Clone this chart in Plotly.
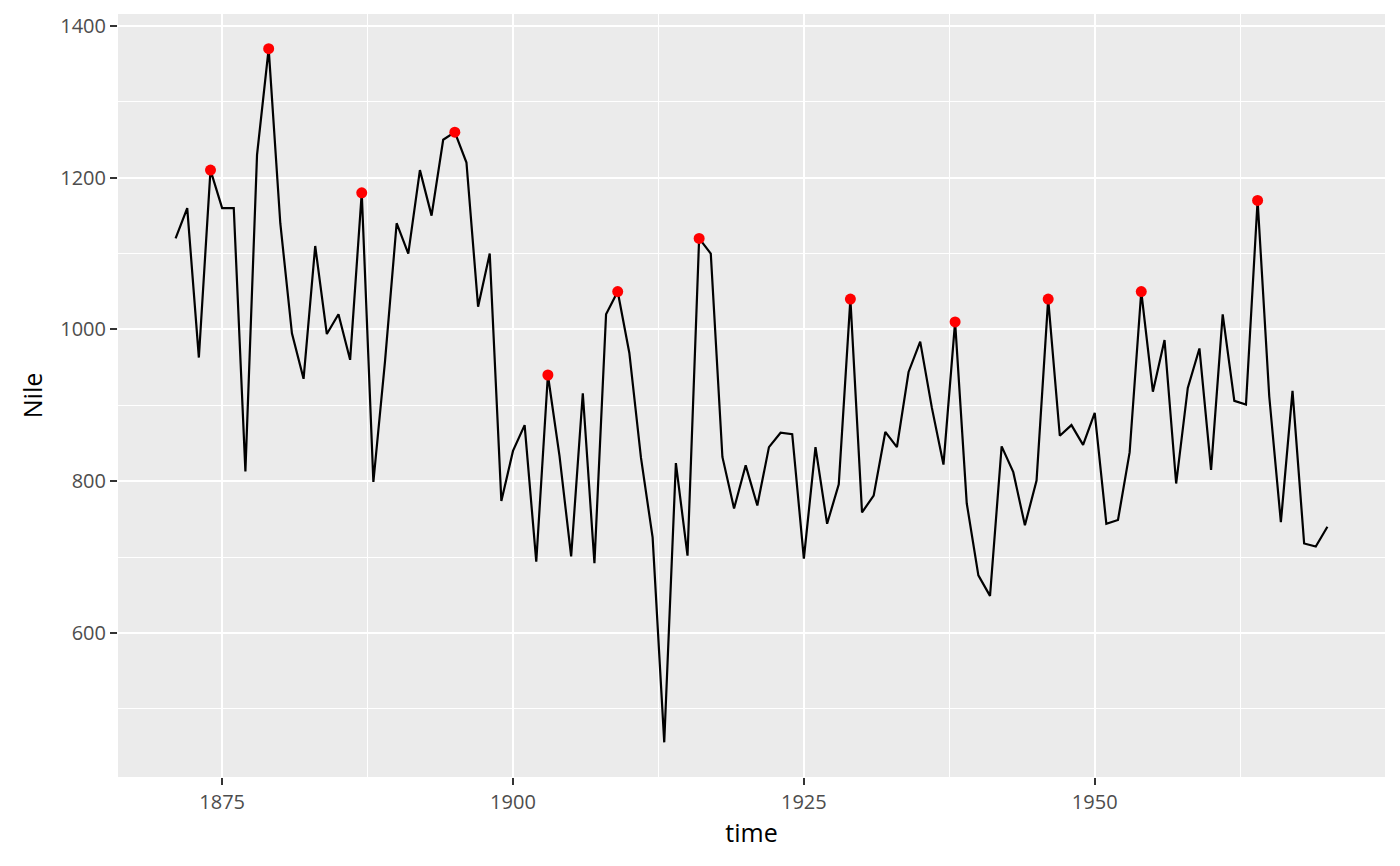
import plotly.graph_objects as go

years = list(range(1871, 1971))
nile = [1120, 1160, 963, 1210, 1160, 1160, 813, 1230, 1370, 1140, 995, 935, 1110, 994, 1020,
        960, 1180, 799, 958, 1140, 1100, 1210, 1150, 1250, 1260, 1220, 1030, 1100, 774, 840,
        874, 694, 940, 833, 701, 916, 692, 1020, 1050, 969, 831, 726, 456, 824, 702, 1120,
        1100, 832, 764, 821, 768, 845, 864, 862, 698, 845, 744, 796, 1040, 759, 781, 865,
        845, 944, 984, 897, 822, 1010, 771, 676, 649, 846, 812, 742, 801, 1040, 860, 874,
        848, 890, 744, 749, 838, 1050, 918, 986, 797, 923, 975, 815, 1020, 906, 901, 1170,
        912, 746, 919, 718, 714, 740]

# local peaks marked in red
peak_years = [1874, 1879, 1887, 1895, 1903, 1909, 1916, 1929, 1938, 1946, 1954, 1964]
peak_vals = [nile[years.index(y)] for y in peak_years]

fig = go.Figure()
fig.add_trace(go.Scatter(x=years, y=nile, mode='lines',
                         line=dict(color='black', width=2.2)))
fig.add_trace(go.Scatter(x=peak_years, y=peak_vals, mode='markers',
                         marker=dict(color='red', size=11)))

axis_common = dict(showline=False, zeroline=False, gridcolor='white', gridwidth=2.2,
                   ticks='outside', ticklen=7, tickcolor='#333333', tickwidth=2.2,
                   tickfont=dict(size=20, color='#4d4d4d'))

fig.update_xaxes(range=[1866.05, 1974.95], tickvals=[1875, 1900, 1925, 1950],
                 title=dict(text='time', font=dict(size=25, color='black'), standoff=10),
                 minor=dict(tickvals=[1862.5, 1887.5, 1912.5, 1937.5, 1962.5],
                            showgrid=True, gridcolor='white', gridwidth=1.1, ticks=''),
                 **axis_common)
fig.update_yaxes(range=[410.3, 1415.7], tickvals=[600, 800, 1000, 1200, 1400],
                 title=dict(text='Nile', font=dict(size=25, color='black'), standoff=10),
                 minor=dict(tickvals=[500, 700, 900, 1100, 1300],
                            showgrid=True, gridcolor='white', gridwidth=1.1, ticks=''),
                 **axis_common)

fig.update_layout(width=1384, height=850, showlegend=False,
                  plot_bgcolor='#ebebeb', paper_bgcolor='white',
                  font=dict(family='Open Sans'),
                  margin=dict(l=110, r=7, t=6, b=81, autoexpand=False))

fig.write_html("out.html")
